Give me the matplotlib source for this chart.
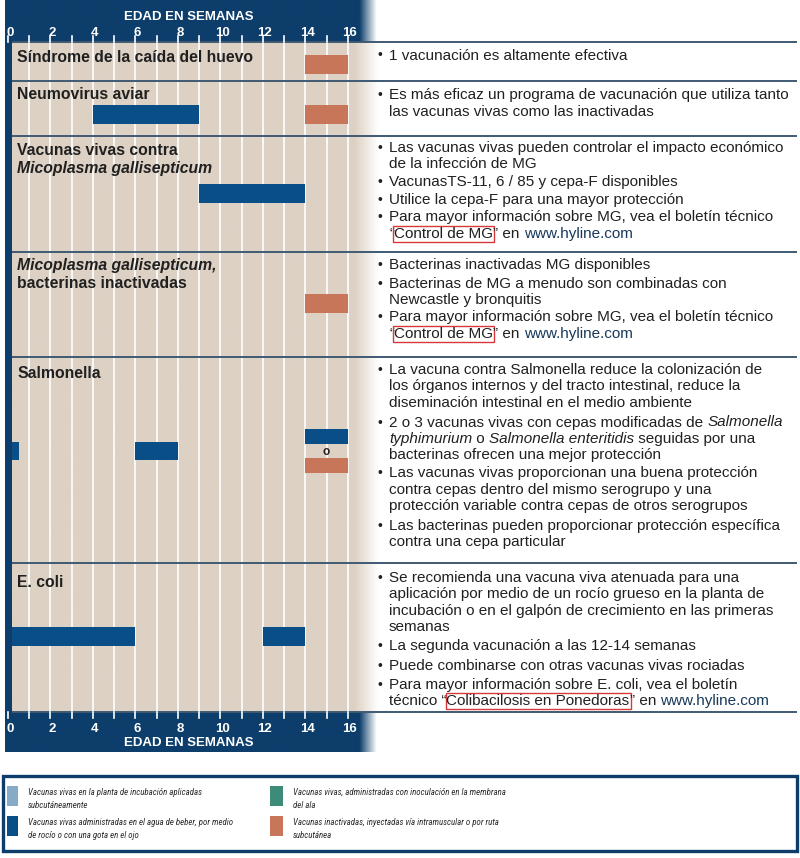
import re

import numpy as np
import matplotlib
matplotlib.use("Agg")
import matplotlib.pyplot as plt
from matplotlib import font_manager
from matplotlib.patches import Rectangle
from matplotlib.transforms import blended_transform_factory

plt.rcParams["font.family"] = ["Liberation Sans", "DejaVu Sans"]

W, H, DPI = 800, 858, 100

NAVY = "#0d3e6b"
BLUE = "#0a4e87"
ORANGE = "#c8765a"
LIGHTBLUE = "#86abc6"
GREEN = "#3f8b79"
BEIGE = "#ddd1c4"
INK = "#202020"
URL = "#17395a"
RULE = "#3f5a72"

# ---- data -------------------------------------------------------------
WEEK_TICKS = [0, 2, 4, 6, 8, 10, 12, 14, 16]
AXIS_TITLE = "EDAD EN SEMANAS"

ROW_LABELS = [
    ["Síndrome de la caída del huevo"],
    ["Neumovirus aviar"],
    ["Vacunas vivas contra", "{i:Micoplasma gallisepticum}"],
    ["{i:Micoplasma gallisepticum,}", "bacterinas inactivadas"],
    ["Salmonella"],
    ["E. coli"],
]

# one entry per bar: row index, start week, end week, vaccine type
BAR_ROW = [0, 1, 1, 2, 3, 4, 4, 4, 4, 5, 5]
BAR_START = [14, 4, 14, 9, 14, 0, 6, 14, 14, 0, 12]
BAR_END = [16, 9, 16, 14, 16, 0.55, 8, 16, 16, 6, 14]
BAR_TYPE = ["inact", "agua", "inact", "agua", "inact",
            "agua", "agua", "agua", "inact", "agua", "agua"]

NOTES = [
    [["1 vacunación es altamente efectiva"]],
    [["Es más eficaz un programa de vacunación que utiliza tanto",
      "las vacunas vivas como las inactivadas"]],
    [["Las vacunas vivas pueden controlar el impacto económico",
      "de la infección de MG"],
     ["VacunasTS-11, 6 / 85 y cepa-F disponibles"],
     ["Utilice la cepa-F para una mayor protección"],
     ["Para mayor información sobre MG, vea el boletín técnico",
      "“{box:Control de MG}” en {url:www.hyline.com}"]],
    [["Bacterinas inactivadas MG disponibles"],
     ["Bacterinas de MG a menudo son combinadas con",
      "Newcastle y bronquitis"],
     ["Para mayor información sobre MG, vea el boletín técnico",
      "“{box:Control de MG}” en {url:www.hyline.com}"]],
    [["La vacuna contra Salmonella reduce la colonización de",
      "los órganos internos y del tracto intestinal, reduce la",
      "diseminación intestinal en el medio ambiente"],
     ["2 o 3 vacunas vivas con cepas modificadas de {i:Salmonella}",
      "{i:typhimurium} o {i:Salmonella enteritidis} seguidas por una",
      "bacterinas ofrecen una mejor protección"],
     ["Las vacunas vivas proporcionan una buena protección",
      "contra cepas dentro del mismo serogrupo y una",
      "protección variable contra cepas de otros serogrupos"],
     ["Las bacterinas pueden proporcionar protección específica",
      "contra una cepa particular"]],
    [["Se recomienda una vacuna viva atenuada para una",
      "aplicación por medio de un rocío grueso en la planta de",
      "incubación o en el galpón de crecimiento en las primeras",
      "semanas"],
     ["La segunda vacunación a las 12-14 semanas"],
     ["Puede combinarse con otras vacunas vivas rociadas"],
     ["Para mayor información sobre E. coli, vea el boletín",
      "técnico “{box:Colibacilosis en Ponedoras}” en {url:www.hyline.com}"]],
]

LEGEND_TYPES = ["planta", "agua", "ala", "inact"]
LEGEND_TEXT = [
    "Vacunas vivas en la planta de incubación aplicadas\nsubcutáneamente",
    "Vacunas vivas administradas en el agua de beber, por medio\nde rocío o con una gota en el ojo",
    "Vacunas vivas, administradas con inoculación en la membrana\ndel ala",
    "Vacunas inactivadas, inyectadas vía intramuscular o por ruta\nsubcutánea",
]
TYPE_COLOR = {"planta": LIGHTBLUE, "agua": BLUE, "ala": GREEN, "inact": ORANGE}

# ---- layout (pixels) ----------------------------------------------------
W0_PX, PX_WEEK = 7.8, 21.25             # week 0 position, pixels per week
CH_L, CH_R, CH_T, CH_B = 12, 358, 42, 712
ROW_EDGES = [42, 81, 136, 252, 357, 563, 712]
LABEL_Y = [62, 99, 155, 270, 378, 587]
BAR_Y = [65, 115, 115, 193.5, 303.5, 451, 451, 436.5, 465.5, 636.5, 636.5]
BAR_H = [19, 19, 19, 19, 19, 18, 18, 15, 15, 19, 19]
NOTE_Y = [[59.5], [99.5], [152, 186, 204, 221.5], [268.5, 288, 321.5],
          [374, 426.5, 477.5, 530], [582, 650, 670, 689]]
LINE_STEP = 16.4
NOTE_FS = 11.0
LABEL_FS = 11.3

TOKEN = re.compile(r"\{(\w+):([^}]*)\}")


def split_runs(line):
    runs, pos = [], 0
    for m in TOKEN.finditer(line):
        if m.start() > pos:
            runs.append(("n", line[pos:m.start()]))
        runs.append((m.group(1), m.group(2)))
        pos = m.end()
    if pos < len(line):
        runs.append(("n", line[pos:]))
    return runs


def run_width(ax, txt, kw, renderer):
    base = {k: v for k, v in kw.items()
            if k in ("fontsize", "fontweight", "fontstyle", "family")}
    a = ax.text(0, 0, "|" + txt + "|", **base)
    b = ax.text(0, 0, "||", **base)
    w = a.get_window_extent(renderer).width - b.get_window_extent(renderer).width
    a.remove(); b.remove()
    return w


def draw_line(ax, x, y, line, size, renderer, weight="normal"):
    for kind, txt in split_runs(line):
        kw = dict(fontsize=size, fontweight=weight, color=INK)
        if kind == "i":
            kw["fontstyle"] = "italic"
        elif kind == "url":
            kw["color"] = URL
        elif kind == "box":
            kw["bbox"] = dict(boxstyle="square,pad=0.06", fc="none",
                              ec="#d8383b", lw=1.0)
        ax.text(x, y, txt, ha="left", va="baseline", **kw)
        x += run_width(ax, txt, kw, renderer)


def fade_strip(color, x0, x1, f0, f1, n=400):
    xs = np.linspace(x0, x1, n)
    a = np.clip((xs - f0) / (f1 - f0), 0, 1)[:, None]
    c = np.array(matplotlib.colors.to_rgb(color))[None, :]
    return (c * (1 - a) + a)[None, :, :]


fig = plt.figure(figsize=(W / DPI, H / DPI), dpi=DPI)
renderer = fig.canvas.get_renderer()

bg = fig.add_axes([0, 0, 1, 1], zorder=0)
bg.set_xlim(0, W); bg.set_ylim(H, 0); bg.axis("off")
bg.imshow(fade_strip(BEIGE, CH_L, 380, 355, 379), extent=(CH_L, 380, CH_B, CH_T),
          aspect="auto", interpolation="bilinear")
bg.set_xlim(0, W); bg.set_ylim(H, 0)

ch = fig.add_axes([CH_L / W, 1 - CH_B / H, (CH_R - CH_L) / W, (CH_B - CH_T) / H],
                  zorder=1)
ch.patch.set_visible(False)
ch.set_xlim((CH_L - W0_PX) / PX_WEEK, (CH_R - W0_PX) / PX_WEEK)
ch.set_ylim(CH_B, CH_T)
ch.axis("off")
ch.vlines(range(1, 17), CH_T, CH_B, color="white", lw=1.2)
for r, s, e, t, y, h in zip(BAR_ROW, BAR_START, BAR_END, BAR_TYPE, BAR_Y, BAR_H):
    ch.barh(y, e - s, left=s, height=h, color=TYPE_COLOR[t], lw=0, zorder=3)
ch.text(15, 452, "o", ha="center", va="center", fontsize=8.5, fontweight="bold",
        color=INK)

fg = fig.add_axes([0, 0, 1, 1], zorder=2)
fg.set_xlim(0, W); fg.set_ylim(H, 0); fg.axis("off")
fg.patch.set_visible(False)

# row rules
for y in ROW_EDGES:
    fg.plot([CH_L, 797], [y, y], color=RULE, lw=1.4, solid_capstyle="butt")

# header / footer bands and the left spine
for top, bot in [(0, 42), (712, 752)]:
    fg.imshow(fade_strip(NAVY, 5, 380, 360, 377), extent=(5, 380, bot, top),
              aspect="auto", interpolation="bilinear")
fg.add_patch(Rectangle((5, 0), 7, 752, color=NAVY, lw=0))
fg.set_xlim(0, W); fg.set_ylim(H, 0)

bx = blended_transform_factory(ch.transData, fg.transData)
for w in range(0, 17):
    fg.plot([w, w], [36, 42], color="white", lw=1.2, transform=bx)
    fg.plot([w, w], [712, 718], color="white", lw=1.2, transform=bx)
for w in WEEK_TICKS:
    fg.text(w + 0.1, 35.5, str(w), transform=bx, ha="center", va="baseline",
            fontsize=9.5, fontweight="bold", color="white")
    fg.text(w + 0.1, 732, str(w), transform=bx, ha="center", va="baseline",
            fontsize=9.5, fontweight="bold", color="white")
fg.text(8.5, 19.5, AXIS_TITLE, transform=bx, ha="center", va="baseline",
        fontsize=9.5, fontweight="bold", color="white")
fg.text(8.5, 746, AXIS_TITLE, transform=bx, ha="center", va="baseline",
        fontsize=9.5, fontweight="bold", color="white")

# row labels
for lines, y in zip(ROW_LABELS, LABEL_Y):
    for k, line in enumerate(lines):
        draw_line(fg, 17, y + k * 17.8, line, LABEL_FS, renderer, weight="bold")

# notes
for bullets, ys in zip(NOTES, NOTE_Y):
    for lines, y in zip(bullets, ys):
        fg.text(377, y, "•", ha="left", va="baseline", fontsize=NOTE_FS - 1,
                color=INK)
        for k, line in enumerate(lines):
            draw_line(fg, 389, y + k * LINE_STEP, line, NOTE_FS, renderer)

# legend: condensed italic if a narrow face is installed, sized to fit
installed = {f.name for f in font_manager.fontManager.ttflist}
leg_family = next((f for f in ["Liberation Sans Narrow", "Roboto Condensed",
                               "Open Sans Condensed", "DejaVu Sans Condensed",
                               "Liberation Sans"] if f in installed),
                  "Liberation Sans")
sw_x = [7, 7, 270, 270]
sw_w = [11, 11, 13, 13]
sw_y = [786, 816, 786, 816]
fit_w = [186, 217, 222, 208]          # widest line of each entry, in px
leg_fs = 8.0
for txt, fw in zip(LEGEND_TEXT, fit_w):
    widest = max(run_width(fg, s, dict(fontsize=10, fontstyle="italic",
                                       family=leg_family), renderer)
                 for s in txt.split("\n"))
    leg_fs = min(leg_fs, 10 * fw / widest)

fg.add_patch(Rectangle((3, 776), 794, 75, fc="white", ec=NAVY, lw=2.4))
for t, txt, x, w, y in zip(LEGEND_TYPES, LEGEND_TEXT, sw_x, sw_w, sw_y):
    fg.add_patch(Rectangle((x, y), w, 19.5, color=TYPE_COLOR[t], lw=0))
    for k, s in enumerate(txt.split("\n")):
        fg.text(x + w + 10, y + 9 + k * 12.5, s, ha="left", va="baseline",
                fontsize=leg_fs, fontstyle="italic", color="#2a2a2a",
                family=leg_family)

fig.savefig("out.png", dpi=DPI, facecolor="white")
